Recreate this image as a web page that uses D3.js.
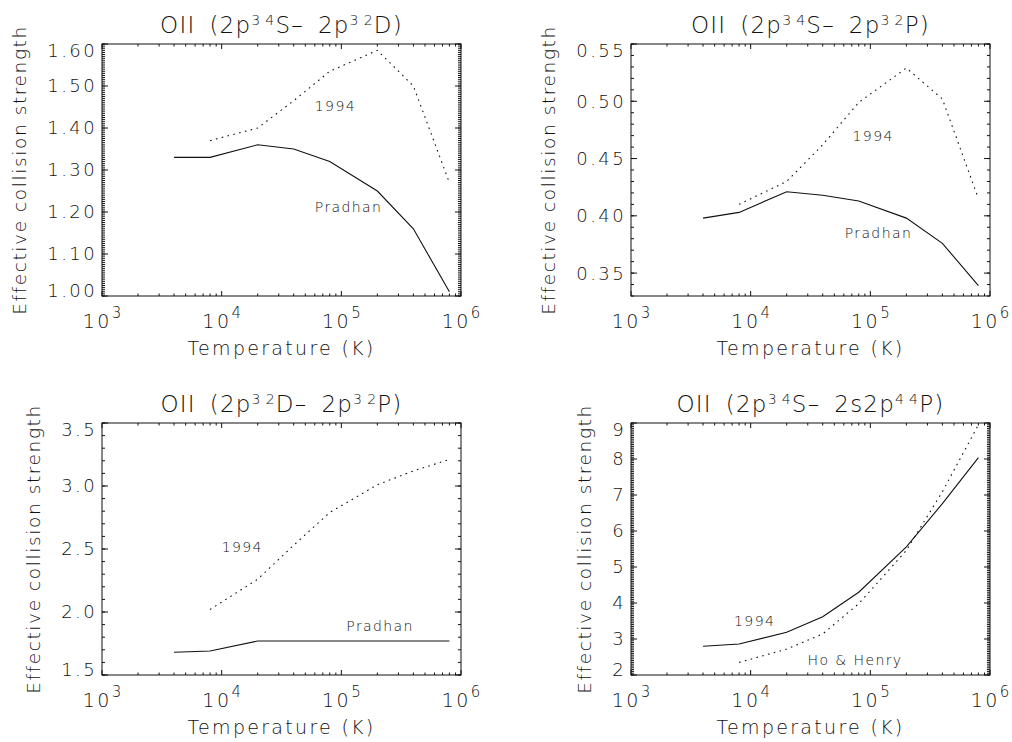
<!DOCTYPE html>
<html>
<head>
<meta charset="utf-8">
<script src="https://cdn.jsdelivr.net/npm/d3@7"></script>
<style>
  body { margin: 0; background: #fff; }
  svg { display: block; }
  text { font-family: "DejaVu Sans", sans-serif; font-weight: 200; fill: #111; }
</style>
</head>
<body>
<svg id="chart" width="1012" height="742"></svg>
<script>
// Temperature grids (K)
const temperature = [4000, 8000, 20000, 40000, 80000, 200000, 400000, 800000];
const temperatureFrom8000 = [8000, 20000, 40000, 80000, 200000, 400000, 800000];

// OII 2p3 4S - 2p3 2D
const pradhan4S2D = [1.33, 1.33, 1.36, 1.35, 1.32, 1.25, 1.16, 1.01];
const ref1994_4S2D = [1.37, 1.40, 1.465, 1.535, 1.585, 1.50, 1.27];

// OII 2p3 4S - 2p3 2P
const pradhan4S2P = [0.398, 0.403, 0.421, 0.418, 0.413, 0.398, 0.376, 0.339];
const ref1994_4S2P = [0.410, 0.430, 0.462, 0.499, 0.529, 0.502, 0.415];

// OII 2p3 2D - 2p3 2P
const pradhan2D2P = [1.68, 1.69, 1.77, 1.77, 1.77, 1.77, 1.77, 1.77];
const ref1994_2D2P = [2.02, 2.26, 2.53, 2.79, 3.01, 3.12, 3.21];

// OII 2p3 4S - 2s2p4 4P
const ref1994_4S4P = [2.80, 2.86, 3.19, 3.62, 4.30, 5.56, 6.76, 8.04];
const hoHenry4S4P = [2.35, 2.72, 3.14, 3.98, 5.46, 7.09, 8.95];

// Axis ticks
const xTicks = [1e3, 1e4, 1e5, 1e6];
const xTickExponents = ["3", "4", "5", "6"];
const yTicks4S2D = [1.00, 1.10, 1.20, 1.30, 1.40, 1.50, 1.60];
const yLabels4S2D = ["1.00", "1.10", "1.20", "1.30", "1.40", "1.50", "1.60"];
const yTicks4S2P = [0.35, 0.40, 0.45, 0.50, 0.55];
const yLabels4S2P = ["0.35", "0.40", "0.45", "0.50", "0.55"];
const yTicks2D2P = [1.5, 2.0, 2.5, 3.0, 3.5];
const yLabels2D2P = ["1.5", "2.0", "2.5", "3.0", "3.5"];
const yTicks4S4P = [2, 3, 4, 5, 6, 7, 8, 9];
const yLabels4S4P = ["2", "3", "4", "5", "6", "7", "8", "9"];

const svg = d3.select("#chart");
const W = 359, H = 252;
const colLeft = [102, 631];
const rowTop = [44, 423];

const panels = [
  {
    left: colLeft[0], top: rowTop[0],
    title: [["OII", 0], ["(2p", 0, 14], ["3", 1], ["4", 1, 4], ["S–", 0], ["2p", 0, 14], ["3", 1], ["2", 1, 4], ["D)", 0]],
    yDomain: [1.00, 1.60], yTicks: yTicks4S2D, yLabels: yLabels4S2D, yMinorStep: 0.005,
    series: [
      { t: temperature, v: pradhan4S2D, dotted: false },
      { t: temperatureFrom8000, v: ref1994_4S2D, dotted: true }
    ],
    notes: [
      { text: "1994", t: 60000, v: 1.44 },
      { text: "Pradhan", t: 60000, v: 1.20 }
    ]
  },
  {
    left: colLeft[1], top: rowTop[0],
    title: [["OII", 0], ["(2p", 0, 14], ["3", 1], ["4", 1, 4], ["S–", 0], ["2p", 0, 14], ["3", 1], ["2", 1, 4], ["P)", 0]],
    yDomain: [0.33, 0.55], yTicks: yTicks4S2P, yLabels: yLabels4S2P, yMinorStep: 0.01,
    series: [
      { t: temperature, v: pradhan4S2P, dotted: false },
      { t: temperatureFrom8000, v: ref1994_4S2P, dotted: true }
    ],
    notes: [
      { text: "1994", t: 71000, v: 0.465 },
      { text: "Pradhan", t: 61000, v: 0.381 }
    ]
  },
  {
    left: colLeft[0], top: rowTop[1],
    title: [["OII", 0], ["(2p", 0, 14], ["3", 1], ["2", 1, 4], ["D–", 0], ["2p", 0, 14], ["3", 1], ["2", 1, 4], ["P)", 0]],
    yDomain: [1.5, 3.5], yTicks: yTicks2D2P, yLabels: yLabels2D2P, yMinorStep: 0.1,
    series: [
      { t: temperature, v: pradhan2D2P, dotted: false },
      { t: temperatureFrom8000, v: ref1994_2D2P, dotted: true }
    ],
    notes: [
      { text: "1994", t: 10000, v: 2.48 },
      { text: "Pradhan", t: 110000, v: 1.85 }
    ]
  },
  {
    left: colLeft[1], top: rowTop[1],
    title: [["OII", 0], ["(2p", 0, 14], ["3", 1], ["4", 1, 4], ["S–", 0], ["2s2p", 0, 14], ["4", 1], ["4", 1, 4], ["P)", 0]],
    yDomain: [2, 9], yTicks: yTicks4S4P, yLabels: yLabels4S4P, yMinorStep: 0.05,
    series: [
      { t: temperature, v: ref1994_4S4P, dotted: false },
      { t: temperatureFrom8000, v: hoHenry4S4P, dotted: true }
    ],
    notes: [
      { text: "1994", t: 7260, v: 3.36 },
      { text: "Ho & Henry", t: 29900, v: 2.29 }
    ]
  }
];

// log-decade minor ticks 2..9
const xMinor = [];
for (let e = 3; e < 6; e++) for (let m = 2; m <= 9; m++) xMinor.push(m * Math.pow(10, e));

// tick marks pointing into the frame on all four sides
function drawTicks(g, x, y, yMajor, yMinor) {
  const t = g.append("g").attr("stroke", "#111").attr("stroke-width", 1);
  const xt = [...xMinor.map(v => [v, 2.5]), ...xTicks.map(v => [v, 5])];
  const yt = [...yMinor.map(v => [v, 3]), ...yMajor.map(v => [v, 6])];
  t.selectAll(".xb").data(xt).join("line").attr("class", "xb")
    .attr("x1", d => x(d[0])).attr("x2", d => x(d[0]))
    .attr("y1", H).attr("y2", d => H - d[1]);
  t.selectAll(".xt").data(xt).join("line").attr("class", "xt")
    .attr("x1", d => x(d[0])).attr("x2", d => x(d[0]))
    .attr("y1", 0).attr("y2", d => d[1]);
  t.selectAll(".yl").data(yt).join("line").attr("class", "yl")
    .attr("y1", d => y(d[0])).attr("y2", d => y(d[0]))
    .attr("x1", 0).attr("x2", d => d[1]);
  t.selectAll(".yr").data(yt).join("line").attr("class", "yr")
    .attr("y1", d => y(d[0])).attr("y2", d => y(d[0]))
    .attr("x1", W).attr("x2", d => W - d[1]);
}

function drawPanel(p) {
  const g = svg.append("g").attr("transform", `translate(${p.left},${p.top})`);
  const x = d3.scaleLog().domain([1e3, 1e6]).range([0, W]);
  const y = d3.scaleLinear().domain(p.yDomain).range([H, 0]);

  const [lo, hi] = p.yDomain;
  const yMinor = d3.range(Math.ceil(lo / p.yMinorStep - 1e-6), Math.floor(hi / p.yMinorStep + 1e-6) + 1)
    .map(k => k * p.yMinorStep);

  drawTicks(g, x, y, p.yTicks, yMinor);

  g.append("rect").attr("width", W).attr("height", H)
    .attr("fill", "none").attr("stroke", "#111").attr("stroke-width", 1);

  // y tick labels; labels at the box ends are kept inside the frame
  const yLab = g.append("g").selectAll("text").data(p.yTicks).join("text")
    .attr("x", -5)
    .attr("y", v => Math.min(H - 5, Math.max(7, y(v))))
    .attr("dy", "0.36em")
    .attr("text-anchor", "end")
    .attr("font-size", 18)
    .attr("letter-spacing", 2.4)
    .text((v, i) => p.yLabels[i]);

  // x tick labels: 10 with exponent
  const xLab = g.append("g").selectAll("text").data(xTicks).join("text")
    .attr("x", v => x(v))
    .attr("y", H + 32)
    .attr("text-anchor", "middle")
    .attr("font-size", 19);
  xLab.append("tspan").attr("letter-spacing", 2.5).text("10");
  xLab.append("tspan").attr("font-size", 15).attr("dy", -10).text((v, i) => xTickExponents[i]);

  // axis titles
  g.append("text")
    .attr("x", W / 2).attr("y", H + 59)
    .attr("text-anchor", "middle")
    .attr("font-size", 19)
    .attr("letter-spacing", 2.3)
    .text("Temperature (K)");

  let minX = 0;
  yLab.each(function () { minX = Math.min(minX, this.getBBox().x); });
  g.append("text")
    .attr("transform", `translate(${minX - 21},${H / 2}) rotate(-90)`)
    .attr("text-anchor", "middle")
    .attr("font-size", 18.5)
    .attr("letter-spacing", 1.6)
    .text("Effective collision strength");

  // title with superscripts
  const title = g.append("text")
    .attr("x", W / 2).attr("y", -11)
    .attr("text-anchor", "middle")
    .attr("font-size", 23)
    .attr("letter-spacing", 1.2);
  let raised = false;
  p.title.forEach(([s, sup, gap]) => {
    const ts = title.append("tspan").text(s);
    if (gap) ts.attr("dx", gap);
    if (sup && !raised) { ts.attr("dy", -8).attr("font-size", 14); raised = true; }
    else if (sup) { ts.attr("font-size", 14); }
    else if (raised) { ts.attr("dy", 8); raised = false; }
  });

  // curves
  const line = d3.line().x(d => x(d[0])).y(d => y(d[1]));
  p.series.forEach(s => {
    g.append("path")
      .datum(s.t.map((t, i) => [t, s.v[i]]))
      .attr("d", line)
      .attr("fill", "none")
      .attr("stroke", "#111")
      .attr("stroke-width", 1.1)
      .attr("stroke-dasharray", s.dotted ? "1.6,4.4" : null);
  });

  // curve annotations
  g.append("g").selectAll("text").data(p.notes).join("text")
    .attr("x", d => x(d.t)).attr("y", d => y(d.v))
    .attr("font-size", 14)
    .attr("letter-spacing", 1.4)
    .text(d => d.text);
}

panels.forEach(drawPanel);
</script>
</body>
</html>
